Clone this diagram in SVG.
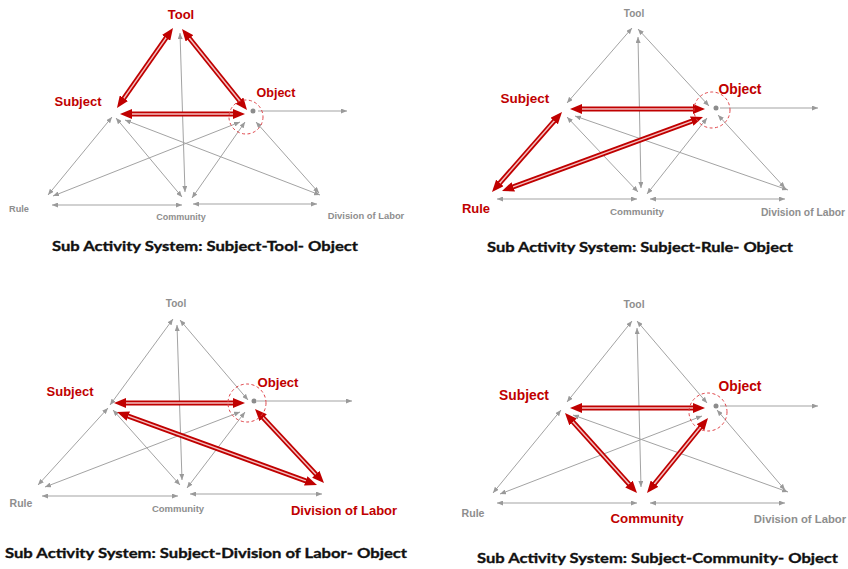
<svg xmlns="http://www.w3.org/2000/svg" width="848" height="569" viewBox="0 0 848 569">
  <style>
    .g { stroke: #a3a3a3; stroke-width: 1; fill: none; marker-start: url(#ga); marker-end: url(#ga); }
    .g1 { stroke: #a3a3a3; stroke-width: 1; fill: none; marker-end: url(#ga); }
    .ro { stroke: #c00000; stroke-width: 5; fill: none; }
    .ri { stroke: #f3c0c0; stroke-width: 1.5; fill: none; }
    .rm { stroke: none; fill: none; marker-start: url(#ra); marker-end: url(#ra); }
    .ring { fill: none; stroke: #e0454a; stroke-width: 1; stroke-dasharray: 3 2.5; }
    .dot { fill: #8c8c8c; }
    .lr { font-family: "Liberation Sans", Arial, sans-serif; font-weight: bold; fill: #c00000; text-anchor: middle; }
    .lg { font-family: "Liberation Sans", Arial, sans-serif; font-weight: bold; fill: #8e8e8e; text-anchor: middle; }
    .cap { font-family: "Lato", "Open Sans", sans-serif; font-weight: bold; font-size: 14px; fill: #111; stroke: #111; stroke-width: 0.35; }
  </style>
  <defs>
    <marker id="ga" viewBox="0 0 6 5" refX="6" refY="2.5" markerWidth="6" markerHeight="5" markerUnits="userSpaceOnUse" orient="auto-start-reverse">
      <path d="M0,0 L6,2.5 L0,5 z" fill="#9a9a9a"/>
    </marker>
    <marker id="ra" viewBox="0 0 12 10" refX="12" refY="5" markerWidth="12" markerHeight="10" markerUnits="userSpaceOnUse" orient="auto-start-reverse">
      <path d="M0,0 L12,5 L0,10 z" fill="#c00000"/>
    </marker>
  </defs>

  <!-- Panel 1: Subject-Tool-Object -->
  <g id="panel-tool">
    <g id="panel-tool-connectors">
      <line class="g" x1="180" y1="33" x2="185" y2="192"/>
      <line class="g" x1="112" y1="117" x2="48" y2="195"/>
      <line class="g" x1="116" y1="118" x2="182" y2="197"/>
      <line class="g" x1="125" y1="120" x2="320" y2="195"/>
      <line class="g" x1="240" y1="122" x2="53" y2="196"/>
      <line class="g" x1="245" y1="122" x2="192" y2="198"/>
      <line class="g" x1="256" y1="122" x2="319" y2="193"/>
      <line class="g" x1="52" y1="205" x2="182" y2="205"/>
      <line class="g" x1="193" y1="204" x2="317" y2="204"/>
      <line class="g1" x1="258" y1="111" x2="347" y2="111"/>
      <!-- highlighted triad -->
      <line class="ro" x1="122.2" y1="100.6" x2="167.8" y2="35.4"/>
      <line class="ri" x1="122.2" y1="100.6" x2="167.8" y2="35.4"/>
      <line class="rm" x1="117" y1="108" x2="173" y2="28"/>
      <line class="ro" x1="187.6" y1="36" x2="241.4" y2="103"/>
      <line class="ri" x1="187.6" y1="36" x2="241.4" y2="103"/>
      <line class="rm" x1="182" y1="29" x2="247" y2="110"/>
      <line class="ro" x1="129" y1="114" x2="236" y2="114"/>
      <line class="ri" x1="129" y1="114" x2="236" y2="114"/>
      <line class="rm" x1="120" y1="114" x2="245" y2="114"/>
    </g>
    <g id="p1-tool"><text class="lr" x="181" y="19" font-size="13">Tool</text></g>
    <g id="p1-subject"><text class="lr" x="78" y="106" font-size="13">Subject</text></g>
    <g id="p1-object">
      <circle class="ring" cx="246" cy="117" r="17"/>
      <circle class="dot" cx="253" cy="111" r="2.5"/>
      <text class="lr" x="276" y="97" font-size="12.5">Object</text>
    </g>
    <g id="p1-rule"><text class="lg" x="19" y="212" font-size="9.2">Rule</text></g>
    <g id="p1-community"><text class="lg" x="181" y="220" font-size="9">Community</text></g>
    <g id="p1-division"><text class="lg" x="366" y="219" font-size="9.4">Division of Labor</text></g>
    <text class="cap" x="52" y="251" textLength="306" lengthAdjust="spacingAndGlyphs">Sub Activity System: Subject-Tool- Object</text>
  </g>

  <!-- Panel 2: Subject-Rule-Object -->
  <g id="panel-rule">
    <g id="panel-rule-connectors">
      <line class="g" x1="632" y1="28" x2="567" y2="103"/>
      <line class="g" x1="638" y1="29" x2="709" y2="106"/>
      <line class="g" x1="638" y1="37" x2="641" y2="188"/>
      <line class="g" x1="567" y1="117" x2="638" y2="192"/>
      <line class="g" x1="575" y1="116" x2="788" y2="190"/>
      <line class="g" x1="707" y1="118" x2="647" y2="194"/>
      <line class="g" x1="718" y1="115" x2="785" y2="188"/>
      <line class="g" x1="497" y1="199" x2="637" y2="199"/>
      <line class="g" x1="650" y1="199" x2="785" y2="199"/>
      <line class="g1" x1="720" y1="108" x2="818" y2="108"/>
      <line class="ro" x1="579" y1="109" x2="696" y2="109"/>
      <line class="ri" x1="579" y1="109" x2="696" y2="109"/>
      <line class="rm" x1="570" y1="109" x2="705" y2="109"/>
      <line class="ro" x1="497.9" y1="185.2" x2="556.1" y2="118.8"/>
      <line class="ri" x1="497.9" y1="185.2" x2="556.1" y2="118.8"/>
      <line class="rm" x1="492" y1="192" x2="562" y2="112"/>
      <line class="ro" x1="510.4" y1="187.9" x2="694.6" y2="120.1"/>
      <line class="ri" x1="510.4" y1="187.9" x2="694.6" y2="120.1"/>
      <line class="rm" x1="502" y1="191" x2="703" y2="117"/>
    </g>
    <g id="p2-tool"><text class="lg" x="634" y="17" font-size="10">Tool</text></g>
    <g id="p2-subject"><text class="lr" x="525" y="103" font-size="13.5">Subject</text></g>
    <g id="p2-object">
      <circle class="ring" cx="712" cy="110" r="18"/>
      <circle class="dot" cx="716" cy="108" r="2.5"/>
      <text class="lr" x="740" y="94" font-size="13.8">Object</text>
    </g>
    <g id="p2-rule"><text class="lr" x="476" y="213" font-size="13">Rule</text></g>
    <g id="p2-community"><text class="lg" x="637" y="215" font-size="9.8">Community</text></g>
    <g id="p2-division"><text class="lg" x="803" y="216" font-size="10.3">Division of Labor</text></g>
    <text class="cap" x="487" y="252" textLength="306" lengthAdjust="spacingAndGlyphs">Sub Activity System: Subject-Rule- Object</text>
  </g>

  <!-- Panel 3: Subject-Division of Labor-Object -->
  <g id="panel-division">
    <g id="panel-division-connectors">
      <line class="g" x1="173" y1="319" x2="110" y2="405"/>
      <line class="g" x1="180" y1="320" x2="248" y2="400"/>
      <line class="g" x1="177" y1="325" x2="182" y2="480"/>
      <line class="g" x1="108" y1="408" x2="38" y2="485"/>
      <line class="g" x1="113" y1="410" x2="180" y2="485"/>
      <line class="g" x1="240" y1="412" x2="45" y2="487"/>
      <line class="g" x1="245" y1="412" x2="187" y2="488"/>
      <line class="g" x1="42" y1="496" x2="178" y2="496"/>
      <line class="g" x1="190" y1="494" x2="322" y2="494"/>
      <line class="g1" x1="257" y1="401" x2="352" y2="401"/>
      <line class="ro" x1="123" y1="403" x2="236" y2="403"/>
      <line class="ri" x1="123" y1="403" x2="236" y2="403"/>
      <line class="rm" x1="114" y1="403" x2="245" y2="403"/>
      <line class="ro" x1="125.5" y1="415.1" x2="308.5" y2="481.9"/>
      <line class="ri" x1="125.5" y1="415.1" x2="308.5" y2="481.9"/>
      <line class="rm" x1="117" y1="412" x2="317" y2="485"/>
      <line class="ro" x1="261.1" y1="415.6" x2="317.9" y2="476.4"/>
      <line class="ri" x1="261.1" y1="415.6" x2="317.9" y2="476.4"/>
      <line class="rm" x1="255" y1="409" x2="324" y2="483"/>
    </g>
    <g id="p3-tool"><text class="lg" x="176" y="307" font-size="10">Tool</text></g>
    <g id="p3-subject"><text class="lr" x="70" y="396" font-size="13">Subject</text></g>
    <g id="p3-object">
      <circle class="ring" cx="247" cy="403" r="19"/>
      <circle class="dot" cx="254" cy="401" r="2.5"/>
      <text class="lr" x="278" y="387" font-size="13.2">Object</text>
    </g>
    <g id="p3-rule"><text class="lg" x="21" y="507" font-size="10.5">Rule</text></g>
    <g id="p3-community"><text class="lg" x="178" y="512" font-size="9.5">Community</text></g>
    <g id="p3-division"><text class="lr" x="344" y="515" font-size="13">Division of Labor</text></g>
    <text class="cap" x="5" y="558" textLength="402" lengthAdjust="spacingAndGlyphs">Sub Activity System: Subject-Division of Labor- Object</text>
  </g>

  <!-- Panel 4: Subject-Community-Object -->
  <g id="panel-community">
    <g id="panel-community-connectors">
      <line class="g" x1="632" y1="321" x2="567" y2="402"/>
      <line class="g" x1="637" y1="321" x2="707" y2="403"/>
      <line class="g" x1="637" y1="328" x2="641" y2="487"/>
      <line class="g" x1="561" y1="410" x2="493" y2="493"/>
      <line class="g" x1="573" y1="415" x2="788" y2="492"/>
      <line class="g" x1="702" y1="416" x2="500" y2="494"/>
      <line class="g" x1="717" y1="410" x2="785" y2="490"/>
      <line class="g" x1="497" y1="503" x2="637" y2="503"/>
      <line class="g" x1="650" y1="503" x2="785" y2="503"/>
      <line class="g1" x1="720" y1="406" x2="818" y2="406"/>
      <line class="ro" x1="579" y1="408" x2="696" y2="408"/>
      <line class="ri" x1="579" y1="408" x2="696" y2="408"/>
      <line class="rm" x1="570" y1="408" x2="705" y2="408"/>
      <line class="ro" x1="571" y1="419.7" x2="631" y2="486.3"/>
      <line class="ri" x1="571" y1="419.7" x2="631" y2="486.3"/>
      <line class="rm" x1="565" y1="413" x2="637" y2="493"/>
      <line class="ro" x1="702.3" y1="425" x2="652.7" y2="486"/>
      <line class="ri" x1="702.3" y1="425" x2="652.7" y2="486"/>
      <line class="rm" x1="708" y1="418" x2="647" y2="493"/>
    </g>
    <g id="p4-tool"><text class="lg" x="634" y="308" font-size="10.4">Tool</text></g>
    <g id="p4-subject"><text class="lr" x="524" y="400" font-size="13.8">Subject</text></g>
    <g id="p4-object">
      <circle class="ring" cx="708" cy="412" r="19"/>
      <circle class="dot" cx="716" cy="406" r="2.5"/>
      <text class="lr" x="740" y="391" font-size="13.8">Object</text>
    </g>
    <g id="p4-rule"><text class="lg" x="473" y="517" font-size="10.6">Rule</text></g>
    <g id="p4-community"><text class="lr" x="647" y="523" font-size="13.3">Community</text></g>
    <g id="p4-division"><text class="lg" x="800" y="523" font-size="11.3">Division of Labor</text></g>
    <text class="cap" x="477" y="563" textLength="361" lengthAdjust="spacingAndGlyphs">Sub Activity System: Subject-Community- Object</text>
  </g>
</svg>
